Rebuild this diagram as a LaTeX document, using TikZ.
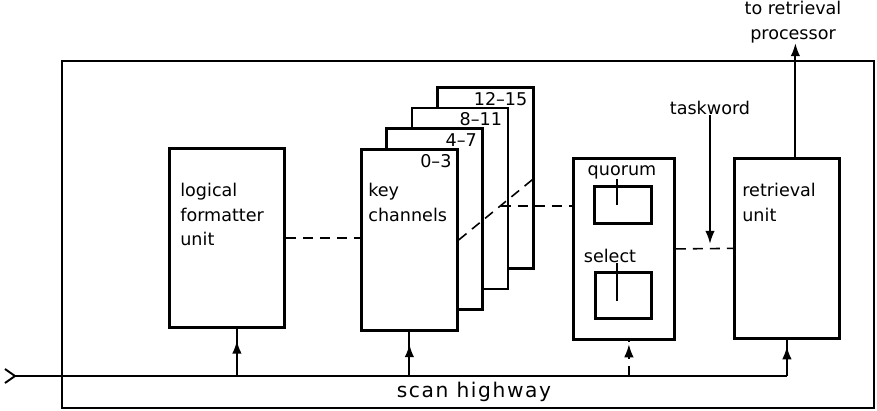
\documentclass[tikz,border=0pt]{standalone}
\usepackage{fontspec}
\setmainfont{DejaVu Sans}
\usetikzlibrary{arrows.meta, calc, decorations.markings}

\begin{document}
\begin{tikzpicture}[
    x=0.02cm, y=-0.02cm,
    font=\fontsize{10}{14}\selectfont,
    unit/.style={rectangle, draw, line width=1.6pt, fill=white, anchor=north west,
                 inner sep=0pt},
    boxlbl/.style={anchor=north west, inner sep=0pt, align=left},
    numlbl/.style={anchor=north east, inner sep=0pt, xshift=-0.14cm, yshift=-0.12cm},
    wire/.style={line width=1.1pt},
    dashln/.style={line width=0.9pt, dash pattern=on 0.2cm off 0.14cm},
    tip/.style={-{Latex[length=0.26cm, width=0.19cm]}},
    marrow/.style={postaction={decorate}, decoration={markings,
                   mark=at position #1 with {\arrow{Latex[length=0.26cm, width=0.19cm]}}}}
]
\useasboundingbox (0,0) rectangle (877,410);
\draw[wire] (62,61) rectangle (874,408);

% units
\node[unit, minimum width=2.3cm, minimum height=3.58cm,
      label={[boxlbl, xshift=0.24cm, yshift=-0.72cm]north west:logical\\formatter\\unit}]
      (lfu) at (168,147) {};
\foreach \i/\range in {3/12--15, 2/8--11, 1/4--7, 0/0--3}
  \node[unit, minimum width=1.92cm, minimum height=3.62cm,
        label={[numlbl]north east:\range}] (kc\i) at ({360+25.3*\i},{148-20.7*\i}) {};
\node[boxlbl, xshift=0.16cm, yshift=-0.7cm] at (kc0.north west) {key\\channels};
\node[unit, minimum width=2.02cm, minimum height=3.62cm] (qs) at (572,157) {};
\node[unit, minimum width=1.14cm, minimum height=0.74cm] (qbox) at (593,185) {};
\node[unit, minimum width=1.12cm, minimum height=0.92cm] (sbox) at (594,271) {};
\node[inner sep=0pt] (qlab) at (622,172) {quorum};
\node[inner sep=0pt] (slab) at (610,256) {select};
\draw[wire] ([xshift=-0.1cm]qlab.south) -- ([xshift=-0.1cm]qlab.south |- qbox.center);
\draw[wire] ([xshift=0.14cm]slab.south) -- ([xshift=0.14cm, yshift=-0.12cm]slab.south |- sbox.center);
\node[unit, minimum width=2.1cm, minimum height=3.6cm,
      label={[boxlbl, xshift=0.18cm, yshift=-0.52cm]north west:retrieval\\unit}]
      (ru) at (733,157) {};

% labels outside
\node[inner sep=0pt] (tw) at (710,108) {taskword};
\node[align=center, inner sep=0pt] (out) at (793,22) {to retrieval\\processor};
\node[inner sep=0pt, font=\fontsize{11.5}{14}\selectfont\addfontfeatures{LetterSpace=8}]
      (hwlab) at (474,392) {scan highway};

% scan highway
\coordinate (in) at (15,376);
\draw[wire] (in) ++(-10,-7) -- (in) -- ++(-10,7);
\draw[wire] (in) -- (in -| ru.south);
\foreach \b/\dx/\p in {lfu/0.2/0.75, kc0/0/0.72, ru/0/0.82}
  \draw[wire, marrow=\p] ([xshift=\dx cm]in -| \b.south) -- ([xshift=\dx cm]\b.south);
\draw[dashln, marrow=0.9] ([xshift=0.1cm]in -| qs.south) -- ([xshift=0.1cm]qs.south);

% data paths
\draw[dashln] (lfu.east) -- (lfu.east -| kc0.west);
\draw[dashln] (kc0.east) -- (kc3.east);
\coordinate (kcmid) at ($(kc0.east)!0.55!(kc3.east)$);
\draw[dashln] (kcmid) -- (kcmid -| qs.west);
\draw[dashln] (qs.east) -- (ru.west);
\draw[wire, tip, shorten >=0.1cm] (tw.south) -- (tw.south |- qs.east);
\draw[wire, tip] ([xshift=0.17cm]ru.north) -- ([xshift=0.17cm]ru.north |- out.south);
\end{tikzpicture}
\end{document}
